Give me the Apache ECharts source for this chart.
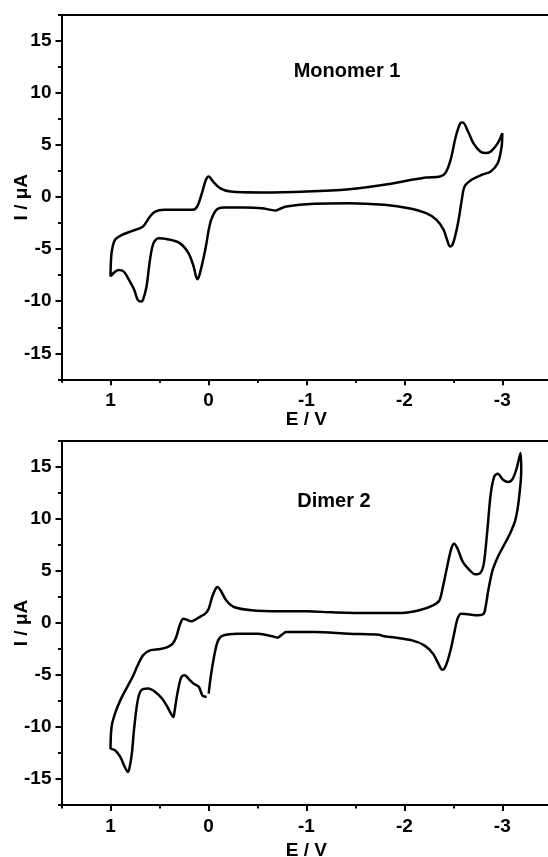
<!DOCTYPE html>
<html><head><meta charset="utf-8">
<script src="https://cdn.jsdelivr.net/npm/echarts@6/dist/echarts.min.js"></script>
<style>html,body{margin:0;padding:0;background:#fff}#c{width:548px;height:857px}</style>
</head><body><div id="c"></div>
<script>
// ---- data (E / V, I / uA) ----
const xMajorTicks = [1, 0, -1, -2, -3];
const xMinorTicks = [1.5, 0.5, -0.5, -1.5, -2.5, -3.5];
const yMajorTicks = [-15, -10, -5, 0, 5, 10, 15];
const yMinorTicks = [-17.5, -12.5, -7.5, -2.5, 2.5, 7.5, 12.5, 17.5];
const panelTitles = ['Monomer 1', 'Dimer 2'];
const xName = 'E / V';
const yName = 'I / \u03bcA';

const monomerCV = [
 [1.000,-7.63],[0.989,-5.38],[0.954,-4.10],[0.882,-3.62],[0.775,-3.24],[0.668,-2.82],
 [0.597,-1.86],[0.543,-1.38],[0.454,-1.22],[0.169,-1.22],[0.115,-0.90],[0.062,0.54],
 [0.026,1.67],[-0.003,1.99],[-0.046,1.51],[-0.117,0.87],[-0.224,0.54],[-0.545,0.45],
 [-1.002,0.54],[-1.437,0.77],[-1.794,1.19],[-2.079,1.67],[-2.222,1.89],[-2.365,1.99],
 [-2.418,2.31],[-2.472,3.59],[-2.525,5.83],[-2.572,7.12],[-2.597,7.18],[-2.650,6.31],
 [-2.704,5.19],[-2.775,4.39],[-2.829,4.23],[-2.882,4.39],[-2.954,5.19],[-3.000,6.15],
 [-2.993,4.87],[-2.954,3.27],[-2.882,2.47],[-2.793,2.15],[-2.686,1.67],[-2.615,1.03],
 [-2.586,-0.26],[-2.554,-2.18],[-2.518,-3.78],[-2.490,-4.58],[-2.465,-4.74],[-2.436,-4.10],
 [-2.401,-3.14],[-2.329,-2.18],[-2.222,-1.54],[-2.044,-1.06],[-1.794,-0.74],[-1.437,-0.58],
 [-1.080,-0.64],[-0.795,-0.90],[-0.723,-1.15],[-0.688,-1.28],[-0.634,-1.22],[-0.545,-1.06],
 [-0.367,-0.99],[-0.153,-0.99],[-0.081,-1.22],[-0.028,-2.18],[-0.003,-3.14],[0.026,-4.74],
 [0.062,-6.35],[0.097,-7.63],[0.115,-7.88],[0.151,-6.67],[0.204,-5.38],[0.293,-4.42],
 [0.418,-4.04],[0.508,-3.94],[0.561,-4.42],[0.597,-6.03],[0.632,-8.59],[0.668,-9.87],
 [0.686,-10.03],[0.722,-9.87],[0.757,-8.91],[0.811,-7.95],[0.864,-7.15],[0.918,-6.99],
 [0.971,-7.31],[1.000,-7.63]
];

const dimerCVa = [
 [1.000,-12.12],[0.989,-10.0],[0.954,-8.72],[0.900,-7.44],[0.829,-6.15],[0.775,-5.19],
 [0.722,-4.07],[0.668,-3.11],[0.597,-2.63],[0.490,-2.50],[0.418,-2.31],[0.365,-1.99],
 [0.329,-1.35],[0.293,-0.22],[0.258,0.42],[0.222,0.32],[0.176,0.16],[0.133,0.32],
 [0.079,0.64],[0.033,0.90],[-0.003,1.38],[-0.038,2.50],[-0.074,3.30],[-0.092,3.46],
 [-0.124,3.14],[-0.181,2.18],[-0.260,1.54],[-0.438,1.22],[-0.723,1.12],[-1.002,1.12],
 [-1.259,1.03],[-1.616,0.96],[-1.972,0.96],[-2.151,1.22],[-2.293,1.70],[-2.358,2.18],
 [-2.393,3.46],[-2.436,5.38],[-2.479,7.15],[-2.508,7.63],[-2.543,7.15],[-2.597,5.87],
 [-2.668,5.06],[-2.722,4.68],[-2.775,4.81],[-2.811,5.71],[-2.847,8.91],[-2.882,12.44],
 [-2.918,14.10],[-2.954,14.36],[-3.007,13.78],[-3.061,13.56],[-3.107,13.88],[-3.150,15.0],
 [-3.186,16.35],[-3.193,14.68],[-3.168,11.79],[-3.132,9.87],[-3.078,8.59],[-3.007,7.31],
 [-2.954,6.35],[-2.900,5.06],[-2.857,3.14],[-2.829,1.54],[-2.811,0.90],[-2.757,0.74],
 [-2.650,0.83],[-2.579,0.90],[-2.543,0.42],[-2.515,-0.71],[-2.479,-2.31],[-2.443,-3.59],
 [-2.408,-4.39],[-2.386,-4.49],[-2.347,-3.91],[-2.293,-2.95],[-2.204,-2.15],[-2.079,-1.67],
 [-1.865,-1.35],[-1.794,-1.28],[-1.740,-1.12],[-1.437,-1.03],[-1.080,-0.87],[-0.795,-0.87],
 [-0.741,-1.19],[-0.706,-1.41],[-0.652,-1.28],[-0.509,-1.03],[-0.295,-1.03],[-0.153,-1.19],
 [-0.099,-1.67],[-0.063,-2.95],[-0.028,-4.87],[-0.010,-6.15],[-0.003,-6.79]
];

const dimerCVb = [
 [0.019,-7.12],[0.062,-6.96],[0.097,-6.15],[0.151,-5.83],[0.204,-5.35],[0.240,-5.03],
 [0.276,-5.19],[0.304,-6.15],[0.329,-7.44],[0.347,-8.56],[0.358,-9.04],[0.383,-8.72],
 [0.418,-8.08],[0.472,-7.28],[0.543,-6.63],[0.615,-6.31],[0.686,-6.47],[0.722,-7.44],
 [0.757,-10.0],[0.782,-12.56],[0.804,-13.85],[0.822,-14.33],[0.854,-13.85],[0.900,-12.88],
 [0.954,-12.24],[1.000,-12.08]
];

// ---- chart ----
const FONT = 'Liberation Sans, Arial, sans-serif';
const txt = {fontFamily: FONT, fontWeight: 'bold', fontSize: 19, color: '#000'};
const lineStyle = {color: '#000', width: 2};

const grids = [
  {left: 61.5, top: 15, width: 489.8, height: 364.3, containLabel: false, outerBoundsMode: 'none'},
  {left: 61.5, top: 441, width: 489.8, height: 364, containLabel: false, outerBoundsMode: 'none'}
];
const nameGapsX = [31, 36];

const xAxes = [], yAxes = [];
grids.forEach((g, gi) => {
  const base = {type: 'value', gridIndex: gi, min: -3.5, max: 1.5, inverse: true,
    splitLine: {show: false}, axisLine: {onZero: false, show: false}};
  xAxes.push(Object.assign({}, base, {
    position: 'bottom',
    axisLine: {onZero: false, show: true, lineStyle: lineStyle},
    axisTick: {show: true, length: 6, lineStyle: lineStyle, customValues: xMajorTicks},
    axisLabel: Object.assign({margin: 12, customValues: xMajorTicks}, txt),
    name: xName, nameLocation: 'middle', nameGap: nameGapsX[gi], nameMoveOverlap: false,
    nameTextStyle: Object.assign({}, txt)
  }));
  xAxes.push(Object.assign({}, base, {
    position: 'bottom',
    axisTick: {show: true, length: 3.5, lineStyle: lineStyle, customValues: xMinorTicks},
    axisLabel: {show: false}
  }));
  xAxes.push(Object.assign({}, base, {
    position: 'top',
    axisLine: {onZero: false, show: true, lineStyle: lineStyle},
    axisTick: {show: false}, axisLabel: {show: false}
  }));
  const ybase = {type: 'value', gridIndex: gi, min: -17.5, max: 17.5, position: 'left',
    splitLine: {show: false}, axisLine: {onZero: false, show: false}};
  yAxes.push(Object.assign({}, ybase, {
    axisLine: {onZero: false, show: true, lineStyle: lineStyle},
    axisTick: {show: true, length: 6, lineStyle: lineStyle, customValues: yMajorTicks},
    axisLabel: Object.assign({margin: 10, customValues: yMajorTicks}, txt),
    name: yName, nameLocation: 'middle', nameGap: 30, nameRotate: 90, nameMoveOverlap: false,
    nameTextStyle: Object.assign({}, txt)
  }));
  yAxes.push(Object.assign({}, ybase, {
    axisTick: {show: true, length: 3.5, lineStyle: lineStyle, customValues: yMinorTicks},
    axisLabel: {show: false}
  }));
});

function cvSeries(data, gi) {
  return {type: 'line', data: data, xAxisIndex: gi * 3, yAxisIndex: gi * 2,
    symbol: 'none', smooth: 0.3, lineStyle: {color: '#000', width: 2.5},
    silent: true, animation: false};
}

const chart = echarts.init(document.getElementById('c'), null, {renderer: 'canvas'});
chart.setOption({
  animation: false,
  backgroundColor: '#fff',
  grid: grids,
  xAxis: xAxes,
  yAxis: yAxes,
  graphic: [
    {type: 'text', x: 347, y: 71, style: {text: panelTitles[0], textAlign: 'center', textVerticalAlign: 'middle',
      font: 'bold 20px ' + FONT, fill: '#000'}},
    {type: 'text', x: 334, y: 501, style: {text: panelTitles[1], textAlign: 'center', textVerticalAlign: 'middle',
      font: 'bold 20px ' + FONT, fill: '#000'}}
  ],
  series: [cvSeries(monomerCV, 0), cvSeries(dimerCVa, 1), cvSeries(dimerCVb, 1)]
});
</script>
</body></html>
